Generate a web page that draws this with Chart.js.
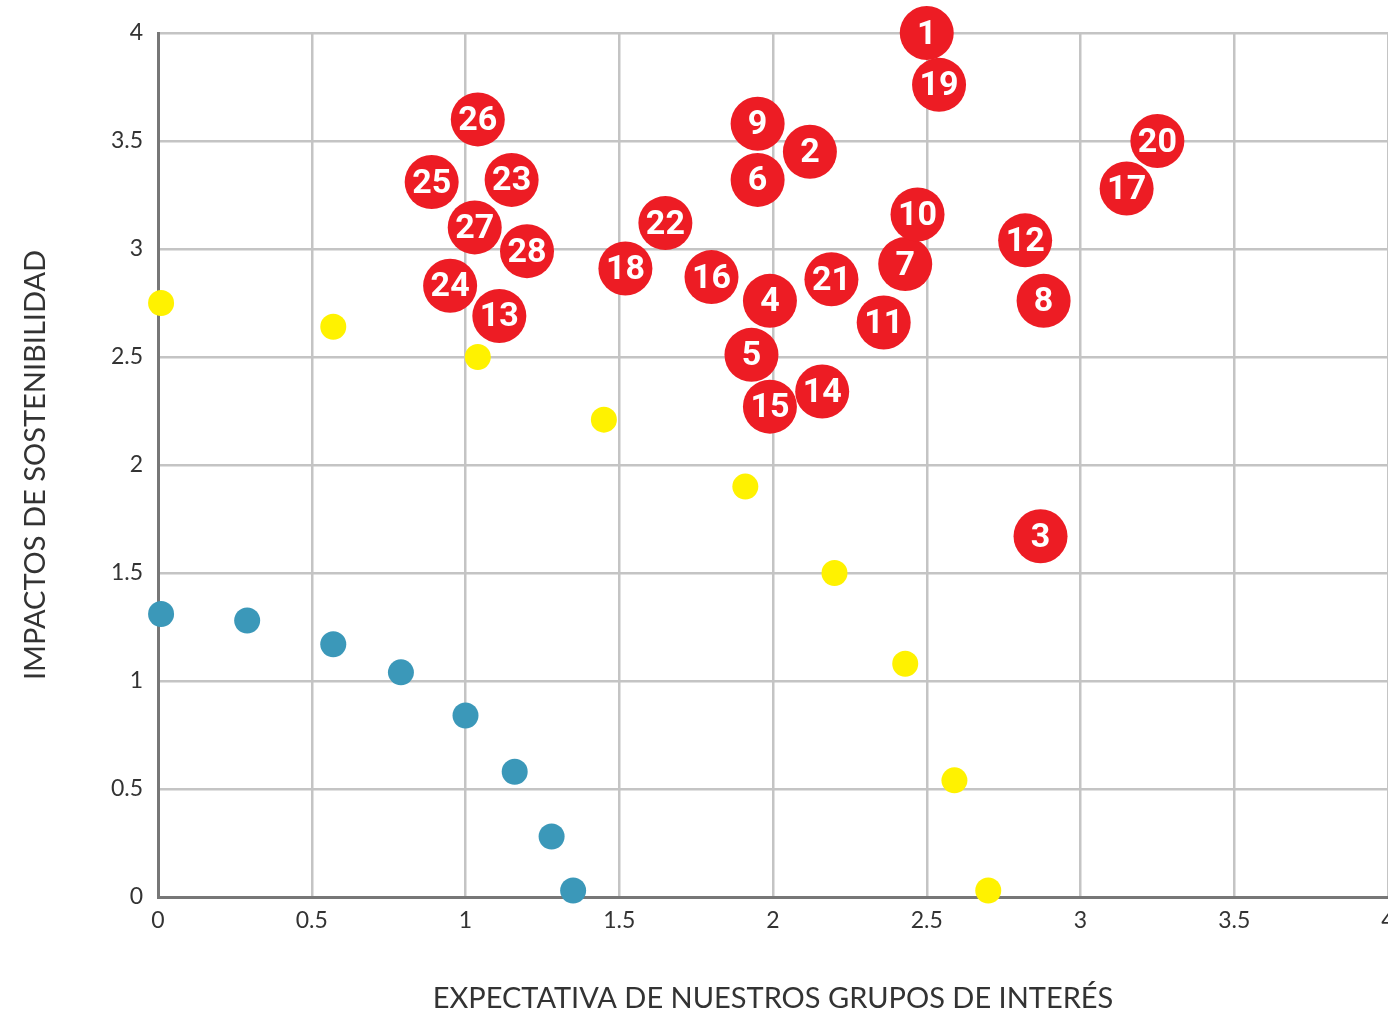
<!DOCTYPE html>
<html>
<head>
<meta charset="utf-8">
<script src="https://cdn.jsdelivr.net/npm/chart.js@4"></script>
<style>
  body { margin: 0; background: #fff; }
  #wrap { width: 1388px; height: 1017px; position: relative; }
</style>
</head>
<body>
<div id="wrap"><canvas id="matrix"></canvas></div>
<script>
// material topics (red, numbered)
const redIds = [1, 2, 3, 4, 5, 6, 7, 8, 9, 10, 11, 12, 13, 14, 15, 16, 17, 18, 19, 20, 21, 22, 23, 24, 25, 26, 27, 28];
const redX = [2.50, 2.12, 2.87, 1.99, 1.93, 1.95, 2.43, 2.88, 1.95, 2.47, 2.36, 2.82, 1.11, 2.16, 1.99, 1.80, 3.15, 1.52, 2.54, 3.25, 2.19, 1.65, 1.15, 0.95, 0.89, 1.04, 1.03, 1.20];
const redY = [4.00, 3.45, 1.67, 2.76, 2.51, 3.32, 2.93, 2.76, 3.58, 3.16, 2.66, 3.04, 2.69, 2.34, 2.27, 2.87, 3.28, 2.91, 3.76, 3.50, 2.86, 3.12, 3.32, 2.83, 3.31, 3.60, 3.10, 2.99];

// yellow threshold
const yellowX = [0.01, 0.57, 1.04, 1.45, 1.91, 2.20, 2.43, 2.59, 2.70];
const yellowY = [2.75, 2.64, 2.50, 2.21, 1.90, 1.50, 1.08, 0.54, 0.03];

// blue threshold
const blueX = [0.01, 0.29, 0.57, 0.79, 1.00, 1.16, 1.28, 1.35];
const blueY = [1.31, 1.28, 1.17, 1.04, 0.84, 0.58, 0.28, 0.03];

const tickVals = [0, 0.5, 1, 1.5, 2, 2.5, 3, 3.5, 4];

function toPoints(xs, ys) {
  return xs.map((x, i) => ({ x: x, y: ys[i] }));
}

// white numbers on the red dots
const numberLabels = {
  id: 'numberLabels',
  afterDatasetsDraw(chart) {
    const ctx = chart.ctx;
    const meta = chart.getDatasetMeta(2);
    ctx.save();
    ctx.fillStyle = '#fff';
    ctx.font = 'bold 34px "Liberation Sans Narrow", Roboto, sans-serif';
    ctx.textAlign = 'center';
    ctx.textBaseline = 'middle';
    meta.data.forEach((pt, i) => {
      ctx.fillText(String(redIds[i]), pt.x, pt.y + 2);
    });
    ctx.restore();
  }
};

const gridColor = '#c4c4c4';
const axisColor = '#777';

new Chart(document.getElementById('matrix'), {
  type: 'scatter',
  data: {
    datasets: [
      {
        data: toPoints(blueX, blueY),
        backgroundColor: '#3b98b9',
        borderWidth: 0,
        pointRadius: 13,
        pointHoverRadius: 13
      },
      {
        data: toPoints(yellowX, yellowY),
        backgroundColor: '#fff200',
        borderWidth: 0,
        pointRadius: 13,
        pointHoverRadius: 13
      },
      {
        data: toPoints(redX, redY),
        backgroundColor: '#ed1c24',
        borderWidth: 0,
        pointRadius: 27,
        pointHoverRadius: 27
      }
    ]
  },
  options: {
    responsive: true,
    maintainAspectRatio: false,
    animation: false,
    clip: false,
    layout: { autoPadding: false, padding: { top: 33, right: 0, bottom: 0, left: 0 } },
    plugins: {
      legend: { display: false },
      tooltip: { enabled: false }
    },
    scales: {
      x: {
        type: 'linear',
        min: 0,
        max: 4,
        afterBuildTicks: s => { s.ticks = tickVals.map(v => ({ value: v })); },
        afterFit: s => { s.height = 120; s.paddingLeft = 0; s.paddingRight = 0; },
        grid: { color: gridColor, lineWidth: 2.5, drawTicks: false },
        border: { color: axisColor, width: 3 },
        ticks: {
          padding: 10,
          color: '#333',
          font: { family: 'Lato, "Open Sans", sans-serif', size: 23 },
          maxRotation: 0,
          callback: v => String(v)
        },
        title: {
          display: true,
          text: 'EXPECTATIVA DE NUESTROS GRUPOS DE INTERÉS',
          color: '#333',
          font: { family: 'Lato, "Open Sans", sans-serif', size: 29 },
          padding: { top: 0, bottom: 1 }
        }
      },
      y: {
        type: 'linear',
        min: 0,
        max: 4,
        afterBuildTicks: s => { s.ticks = tickVals.map(v => ({ value: v })); },
        afterFit: s => { s.width = 158; s.paddingTop = 0; s.paddingBottom = 0; },
        grid: { color: gridColor, lineWidth: 2.5, drawTicks: false },
        border: { color: axisColor, width: 3 },
        ticks: {
          padding: 15,
          color: '#333',
          font: { family: 'Lato, "Open Sans", sans-serif', size: 23 },
          callback: v => String(v)
        },
        title: {
          display: true,
          text: 'IMPACTOS DE SOSTENIBILIDAD',
          color: '#333',
          font: { family: 'Lato, "Open Sans", sans-serif', size: 29 },
          padding: { top: 18, bottom: 0 }
        }
      }
    }
  },
  plugins: [numberLabels]
});
</script>
</body>
</html>
